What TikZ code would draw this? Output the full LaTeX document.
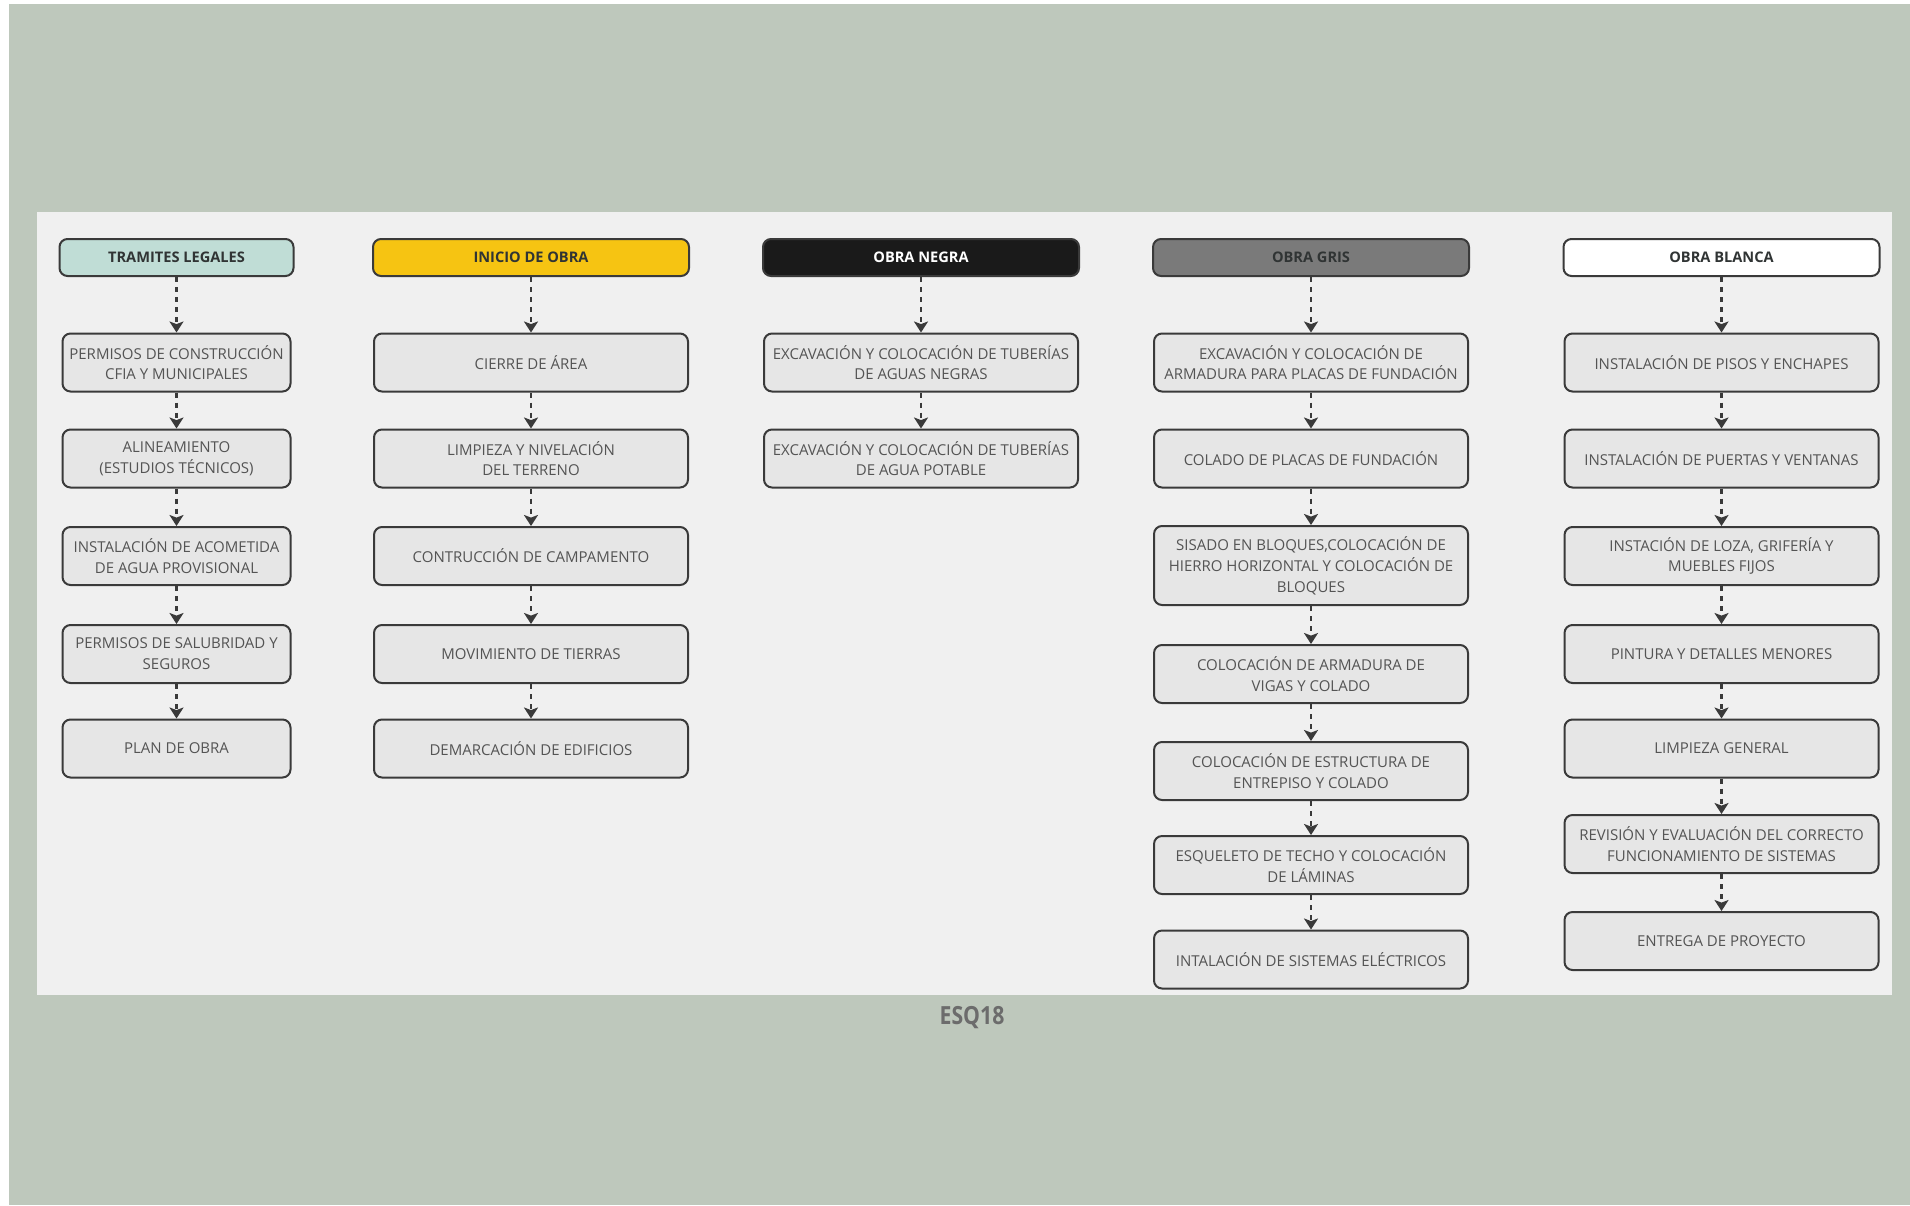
\documentclass[tikz,border=0pt]{standalone}
\usepackage{fontspec}
\setmainfont{Open Sans}
\newfontfamily\boxfont{Open Sans}
\newfontfamily\esqfont[FakeStretch=0.85]{Open Sans}
\usetikzlibrary{arrows.meta}
\definecolor{bgpage}{RGB}{190,200,188}
\definecolor{panelc}{RGB}{240,240,240}
\definecolor{boxfill}{RGB}{230,230,230}
\definecolor{boxline}{RGB}{58,58,58}
\definecolor{boxtext}{RGB}{84,84,84}
\definecolor{hteal}{RGB}{192,221,214}
\definecolor{hyellow}{RGB}{246,196,18}
\definecolor{hblack}{RGB}{26,26,26}
\definecolor{hgray}{RGB}{122,122,122}
\definecolor{htext}{RGB}{48,52,52}
\definecolor{esqc}{RGB}{108,108,108}
\tikzset{
  stepbox/.style={draw=boxline, fill=boxfill, rounded corners=4pt, line width=1pt,
    align=center, text=boxtext, inner sep=0pt, minimum height=29pt,
    font={\boxfont\fontsize{7.5}{10.4}\selectfont}},
  hdrbox/.style={draw=boxline, rounded corners=4pt, line width=1pt,
    align=center, inner sep=0pt, minimum height=18.5pt,
    font={\boxfont\bfseries\fontsize{7.3}{9}\selectfont}},
  narrowcol/.style={minimum width=114pt},
  widecol/.style={minimum width=157pt},
  hnarrow/.style={minimum width=117pt},
  hwide/.style={minimum width=158pt},
  flow/.style={draw=boxline, line width=1.1pt, dash pattern=on 2.6pt off 2.4pt,
    -{Stealth[length=5.5pt,width=7pt,inset=1.3pt]}},
}
\begin{document}
\begin{tikzpicture}[x=0.5pt,y=-0.5pt]
\useasboundingbox (0,0) rectangle (1910,1205);
\fill[white] (0,0) rectangle (1910,1205);
\fill[bgpage] (9,4) rectangle (1910,1205);
\fill[panelc] (37,212) rectangle (1892,995);

% Column 1
\node[hdrbox, hnarrow, fill=hteal, text=htext] (h1) at (176.5,257.5) {TRAMITES LEGALES};
\node[stepbox, narrowcol] (a1) at (176.5,362.5) {PERMISOS DE CONSTRUCCIÓN\\CFIA Y MUNICIPALES};
\node[stepbox, narrowcol] (a2) at (176.5,458.5) {ALINEAMIENTO\\(ESTUDIOS TÉCNICOS)};
\node[stepbox, narrowcol] (a3) at (176.5,556) {INSTALACIÓN DE ACOMETIDA\\DE AGUA PROVISIONAL};
\node[stepbox, narrowcol] (a4) at (176.5,654) {PERMISOS DE SALUBRIDAD Y\\SEGUROS};
\node[stepbox, narrowcol] (a5) at (176.5,748.5) {PLAN DE OBRA};

% Column 2
\node[hdrbox, hwide, fill=hyellow, text=htext] (h2) at (531,257.5) {INICIO DE OBRA};
\node[stepbox, widecol] (b1) at (531,362.5) {CIERRE DE ÁREA};
\node[stepbox, widecol] (b2) at (531,458.5) {LIMPIEZA Y NIVELACIÓN\\DEL TERRENO};
\node[stepbox, widecol] (b3) at (531,556) {CONTRUCCIÓN DE CAMPAMENTO};
\node[stepbox, widecol] (b4) at (531,654) {MOVIMIENTO DE TIERRAS};
\node[stepbox, widecol] (b5) at (531,748.5) {DEMARCACIÓN DE EDIFICIOS};

% Column 3
\node[hdrbox, hwide, fill=hblack, text=white] (h3) at (921,257.5) {OBRA NEGRA};
\node[stepbox, widecol] (c1) at (921,362.5) {EXCAVACIÓN Y COLOCACIÓN DE TUBERÍAS\\DE AGUAS NEGRAS};
\node[stepbox, widecol] (c2) at (921,458.5) {EXCAVACIÓN Y COLOCACIÓN DE TUBERÍAS\\DE AGUA POTABLE};

% Column 4
\node[hdrbox, hwide, fill=hgray, text=htext] (h4) at (1311,257.5) {OBRA GRIS};
\node[stepbox, widecol] (d1) at (1311,362.5) {EXCAVACIÓN Y COLOCACIÓN DE\\ARMADURA PARA PLACAS DE FUNDACIÓN};
\node[stepbox, widecol] (d2) at (1311,458.5) {COLADO DE PLACAS DE FUNDACIÓN};
\node[stepbox, widecol, minimum height=39.5pt] (d3) at (1311,565.5) {SISADO EN BLOQUES,COLOCACIÓN DE\\HIERRO HORIZONTAL Y COLOCACIÓN DE\\BLOQUES};
\node[stepbox, widecol] (d4) at (1311,674) {COLOCACIÓN DE ARMADURA DE\\VIGAS Y COLADO};
\node[stepbox, widecol] (d5) at (1311,771) {COLOCACIÓN DE ESTRUCTURA DE\\ENTREPISO Y COLADO};
\node[stepbox, widecol] (d6) at (1311,865) {ESQUELETO DE TECHO Y COLOCACIÓN\\DE LÁMINAS};
\node[stepbox, widecol] (d7) at (1311,959.5) {INTALACIÓN DE SISTEMAS ELÉCTRICOS};

% Column 5
\node[hdrbox, hwide, fill=white, text=htext] (h5) at (1721.5,257.5) {OBRA BLANCA};
\node[stepbox, widecol] (e1) at (1721.5,362.5) {INSTALACIÓN DE PISOS Y ENCHAPES};
\node[stepbox, widecol] (e2) at (1721.5,458.5) {INSTALACIÓN DE PUERTAS Y VENTANAS};
\node[stepbox, widecol] (e3) at (1721.5,556) {INSTACIÓN DE LOZA, GRIFERÍA Y\\MUEBLES FIJOS};
\node[stepbox, widecol] (e4) at (1721.5,654) {PINTURA Y DETALLES MENORES};
\node[stepbox, widecol] (e5) at (1721.5,748.5) {LIMPIEZA GENERAL};
\node[stepbox, widecol] (e6) at (1721.5,844) {REVISIÓN Y EVALUACIÓN DEL CORRECTO\\FUNCIONAMIENTO DE SISTEMAS};
\node[stepbox, widecol] (e7) at (1721.5,941) {ENTREGA DE PROYECTO};

% Caption
\node[font={\esqfont\bfseries\fontsize{12.5}{14}\selectfont}, text=esqc, inner sep=0pt] (cap) at (972,1018) {ESQ18};

% Connectors
\foreach \s/\t in {h1/a1,a1/a2,a2/a3,a3/a4,a4/a5,
                   h2/b1,b1/b2,b2/b3,b3/b4,b4/b5,
                   h3/c1,c1/c2,
                   h4/d1,d1/d2,d2/d3,d3/d4,d4/d5,d5/d6,d6/d7,
                   h5/e1,e1/e2,e2/e3,e3/e4,e4/e5,e5/e6,e6/e7}
  \draw[flow] (\s) -- (\t);
\end{tikzpicture}
\end{document}
